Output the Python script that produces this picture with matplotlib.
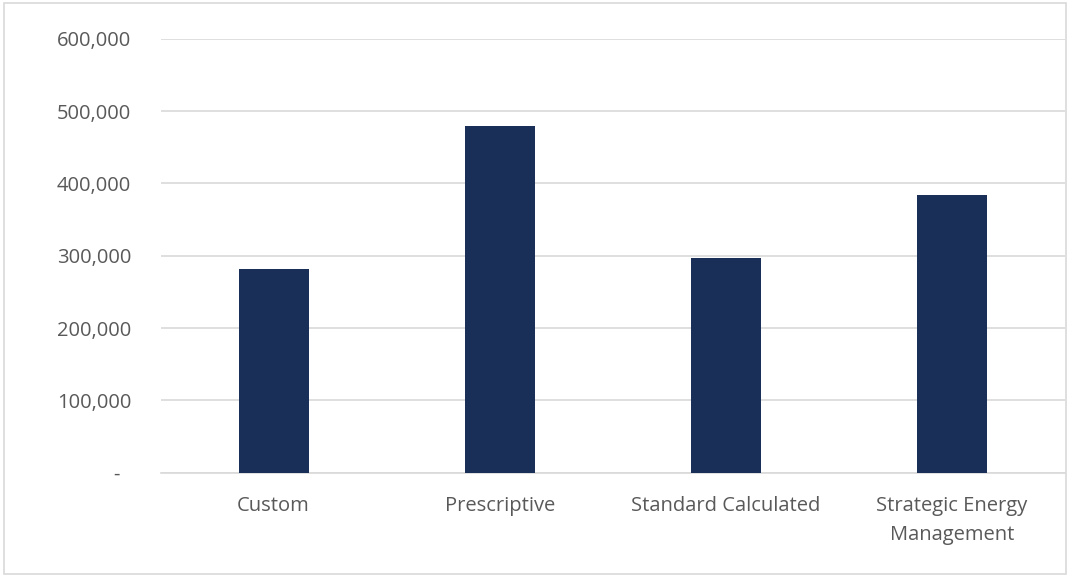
import matplotlib
matplotlib.use("Agg")
import matplotlib.pyplot as plt
from matplotlib.ticker import FuncFormatter
from matplotlib.patches import Rectangle

categories = ["Custom", "Prescriptive", "Standard Calculated", "Strategic Energy\nManagement"]
values = [281000, 480000, 297000, 384000]
yticks = [0, 100000, 200000, 300000, 400000, 500000, 600000]

plt.rcParams['font.family'] = ['Open Sans', 'DejaVu Sans']

fig = plt.figure(figsize=(10.68, 5.75), dpi=100)
ax = fig.add_axes([160.5/1068, 1-472.7/575, (1065-160.5)/1068, (472.7-38.7)/575])

x = list(range(len(categories)))
ax.bar(x, values, width=0.31, color="#1A2F57", zorder=3)

ax.set_xlim(-0.5, 3.5)
ax.set_ylim(0, 600000)
ax.set_yticks(yticks)
ax.yaxis.set_major_formatter(FuncFormatter(lambda v, p: "-  " if v == 0 else f"{int(v):,}"))
ax.set_xticks(x)
ax.set_xticklabels(categories, linespacing=1.6)

ax.grid(axis="y", color="#D9D9D9", linewidth=1.2, zorder=0)
for s in ["top", "right", "left"]:
    ax.spines[s].set_visible(False)
ax.spines["bottom"].set_color("#D9D9D9")
ax.spines["bottom"].set_linewidth(1.2)
ax.spines["bottom"].set_zorder(1)

ax.tick_params(axis="y", length=0, pad=21, labelsize=14.5, labelcolor="#595959")
ax.tick_params(axis="x", length=0, pad=17, labelsize=14.5, labelcolor="#595959")

fig.patches.append(Rectangle((4/1068, 1-574/575), 1062/1068, 571/575,
                             transform=fig.transFigure, fill=False,
                             edgecolor="#D9D9D9", linewidth=1.2))

fig.savefig("out.png", dpi=100)
